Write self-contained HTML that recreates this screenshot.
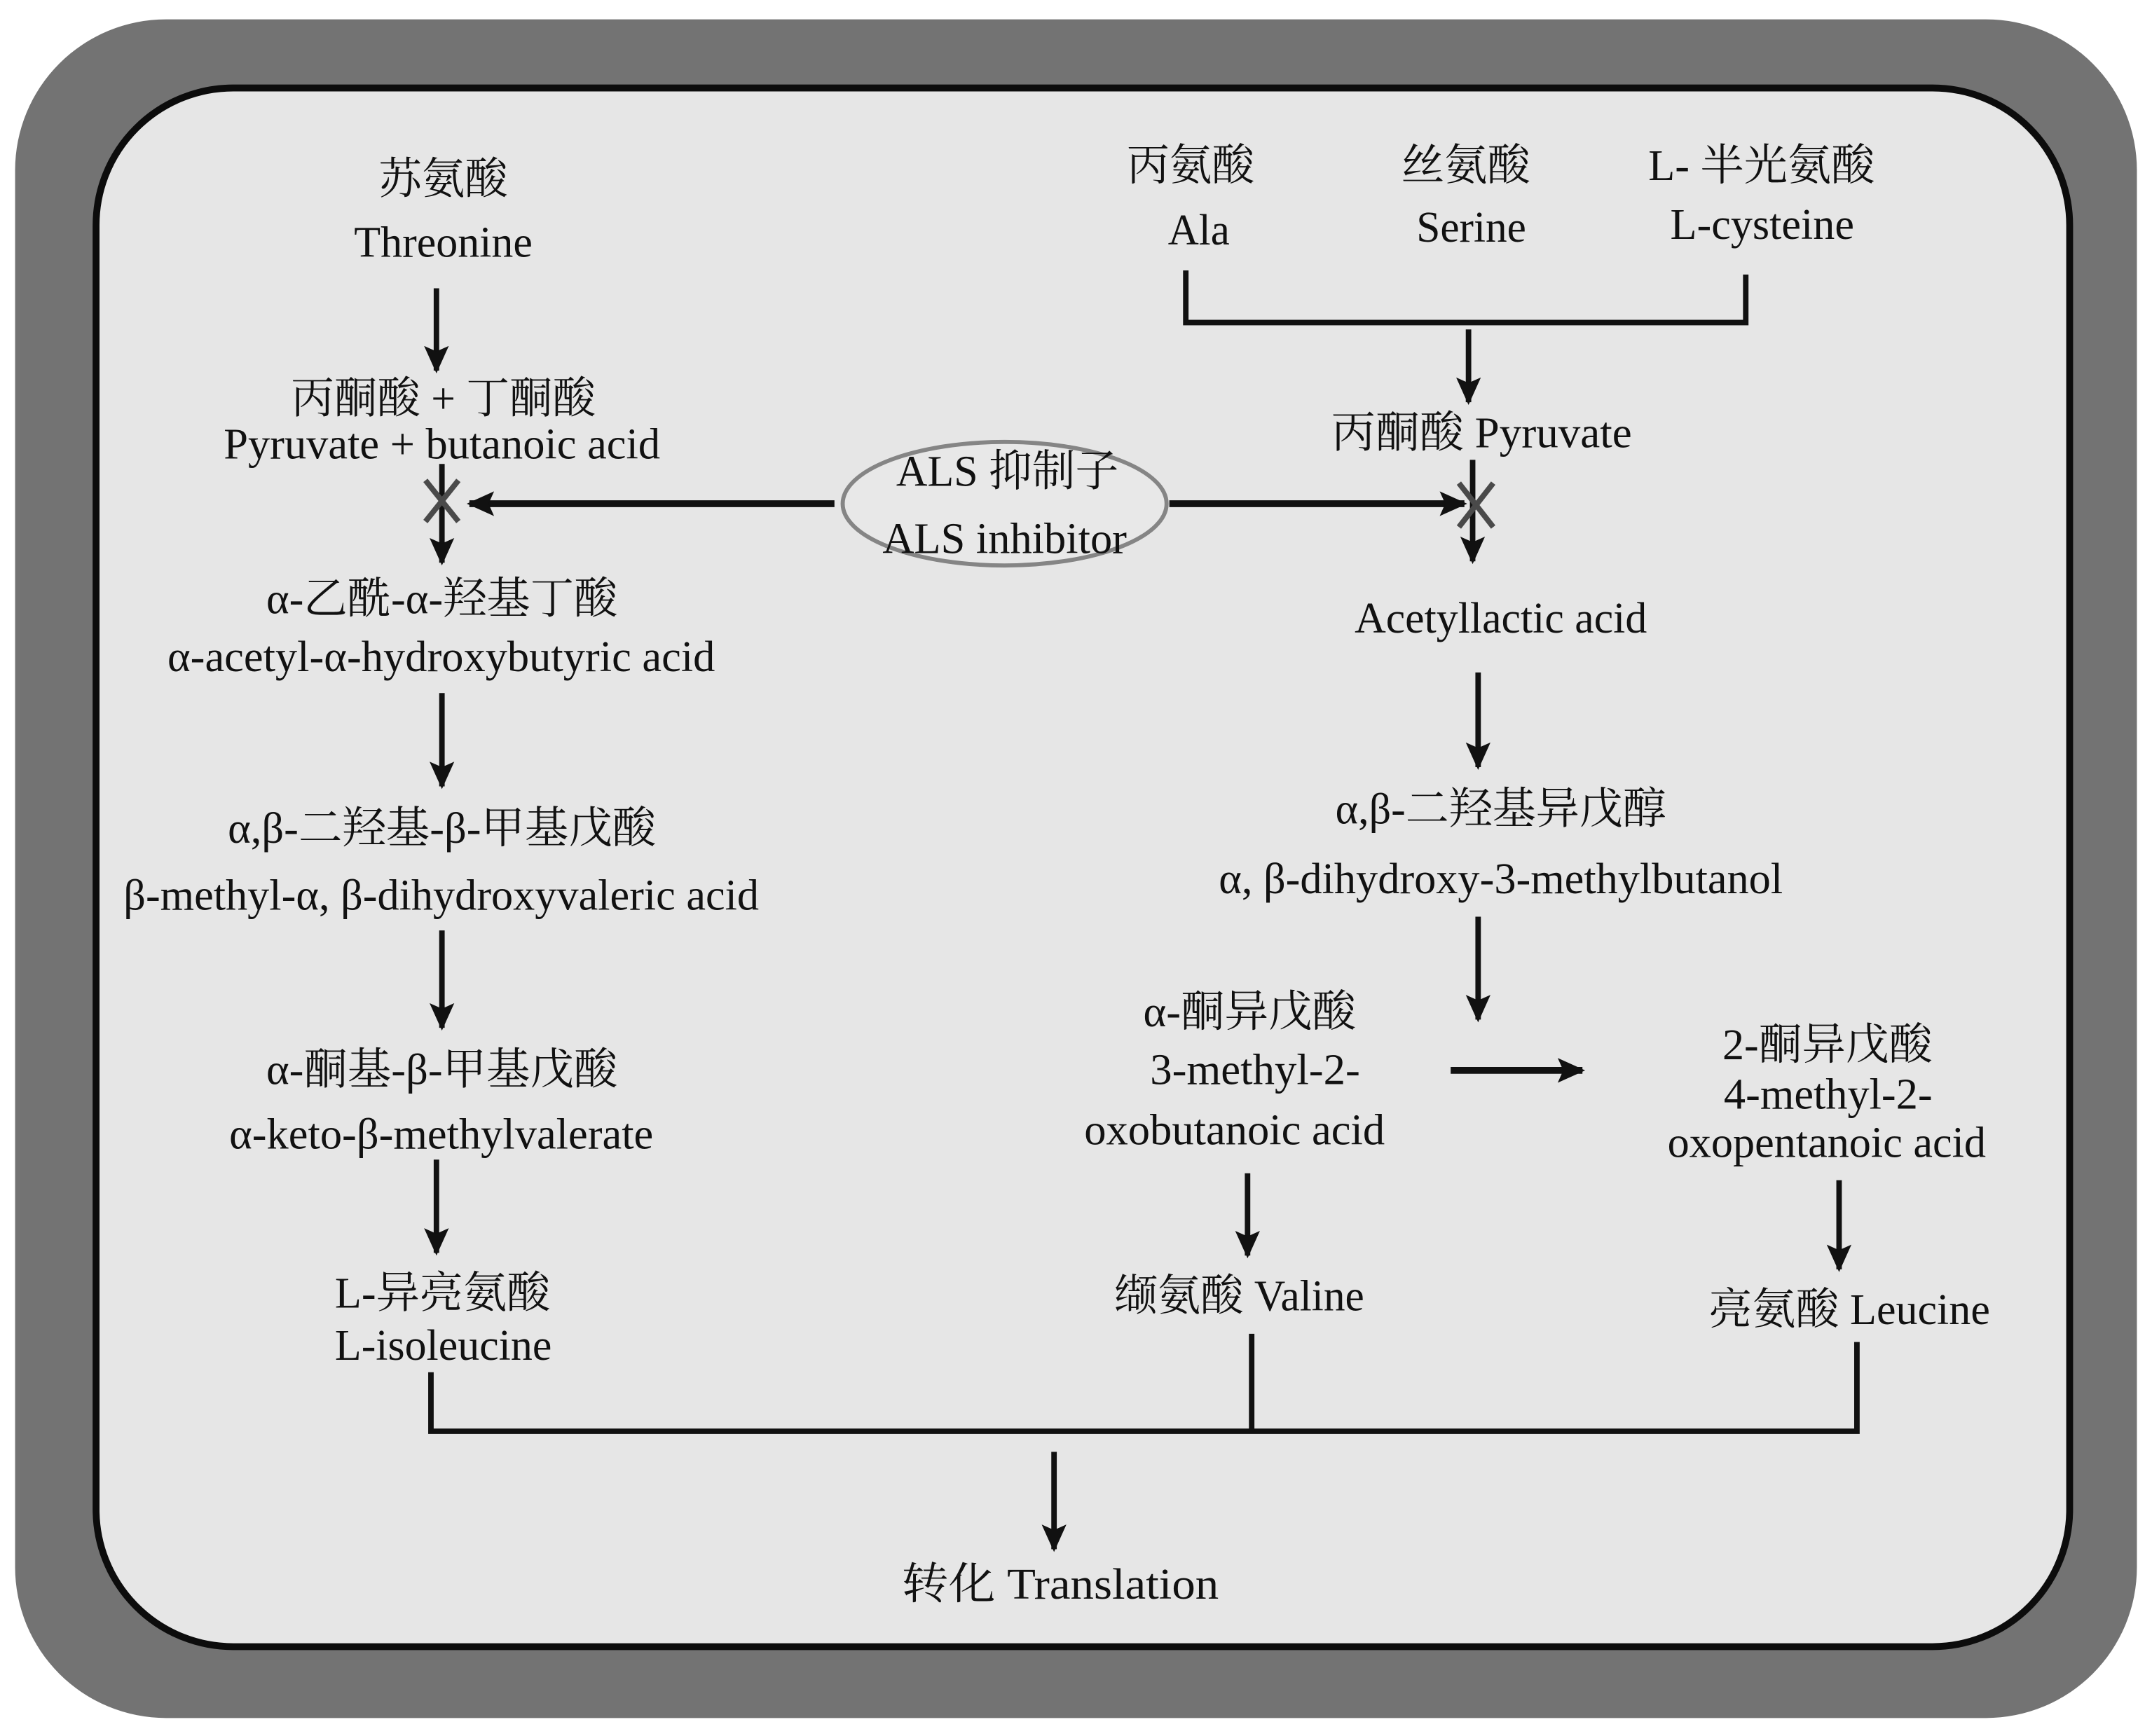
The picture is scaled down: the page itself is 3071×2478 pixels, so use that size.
<!DOCTYPE html>
<html><head><meta charset="utf-8"><style>
html,body{margin:0;padding:0;background:#fff}
svg{display:block}
text{font-family:"Liberation Serif","Noto Serif CJK SC",serif;font-size:32px;fill:#111}
</style></head><body>
<svg width="3071" height="2478" viewBox="0 0 1568 1265" xmlns="http://www.w3.org/2000/svg">
<defs>
<marker id="a" markerUnits="userSpaceOnUse" markerWidth="20" markerHeight="20" refX="18" refY="10" orient="auto">
<path d="M0,1 L20,10 L0,19 L4,10 Z" fill="#111"/>
</marker>
</defs>
<rect x="11" y="14" width="1546" height="1238" rx="110" fill="#737373"/>
<rect x="70" y="64" width="1438" height="1136" rx="100" fill="#e6e6e6" stroke="#0c0c0c" stroke-width="5"/>

<g stroke="#111" stroke-width="4" fill="none">
<line x1="318" y1="210" x2="318" y2="270" marker-end="url(#a)"/>
<line x1="322" y1="338" x2="322" y2="410" marker-end="url(#a)"/>
<line x1="322" y1="505" x2="322" y2="573" marker-end="url(#a)"/>
<line x1="322" y1="678" x2="322" y2="749" marker-end="url(#a)"/>
<line x1="318" y1="845" x2="318" y2="913" marker-end="url(#a)"/>
<polyline points="314,1000 314,1043 1353,1043 1353,978"/>
<line x1="912" y1="972" x2="912" y2="1043"/>
<line x1="768" y1="1058" x2="768" y2="1129" marker-end="url(#a)"/>
<line x1="608" y1="367" x2="342" y2="367" stroke-width="5" marker-end="url(#a)"/>
<line x1="852" y1="367" x2="1067" y2="367" stroke-width="5" marker-end="url(#a)"/>
<polyline points="864,197 864,235 1272,235 1272,200"/>
<line x1="1070" y1="240" x2="1070" y2="293" marker-end="url(#a)"/>
<line x1="1073" y1="335" x2="1073" y2="409" marker-end="url(#a)"/>
<line x1="1077" y1="490" x2="1077" y2="559" marker-end="url(#a)"/>
<line x1="1077" y1="668" x2="1077" y2="743" marker-end="url(#a)"/>
<line x1="1057" y1="780" x2="1153" y2="780" stroke-width="5" marker-end="url(#a)"/>
<line x1="909" y1="855" x2="909" y2="915" marker-end="url(#a)"/>
<line x1="1340" y1="860" x2="1340" y2="925" marker-end="url(#a)"/>
</g>
<g stroke="#4a4a4a" stroke-width="4">
<line x1="310" y1="350" x2="334" y2="380"/><line x1="334" y1="350" x2="310" y2="380"/>
<line x1="1063" y1="352" x2="1088" y2="384"/><line x1="1088" y1="352" x2="1063" y2="384"/>
</g>
<ellipse cx="732" cy="367" rx="118" ry="45" fill="#e8e8e8" stroke="#858585" stroke-width="3"/>

<g>
<text x="276" y="141" textLength="94" lengthAdjust="spacingAndGlyphs">苏氨酸</text>
<text x="258" y="187" textLength="130" lengthAdjust="spacingAndGlyphs">Threonine</text>
<text x="212" y="301" textLength="222" lengthAdjust="spacingAndGlyphs">丙酮酸 + 丁酮酸</text>
<text x="163" y="334" textLength="318" lengthAdjust="spacingAndGlyphs">Pyruvate + butanoic acid</text>
<text x="194" y="447" textLength="256" lengthAdjust="spacingAndGlyphs">α-乙酰-α-羟基丁酸</text>
<text x="122" y="489" textLength="399" lengthAdjust="spacingAndGlyphs">α-acetyl-α-hydroxybutyric acid</text>
<text x="166" y="614" textLength="312" lengthAdjust="spacingAndGlyphs">α,β-二羟基-β-甲基戊酸</text>
<text x="90" y="663" textLength="463" lengthAdjust="spacingAndGlyphs">β-methyl-α, β-dihydroxyvaleric acid</text>
<text x="194" y="790" textLength="256" lengthAdjust="spacingAndGlyphs">α-酮基-β-甲基戊酸</text>
<text x="167" y="837" textLength="309" lengthAdjust="spacingAndGlyphs">α-keto-β-methylvalerate</text>
<text x="244" y="953" textLength="157" lengthAdjust="spacingAndGlyphs">L-异亮氨酸</text>
<text x="244" y="991" textLength="158" lengthAdjust="spacingAndGlyphs">L-isoleucine</text>
<text x="657" y="1165" textLength="231" lengthAdjust="spacingAndGlyphs">转化   Translation</text>
<text x="653" y="354" textLength="162" lengthAdjust="spacingAndGlyphs">ALS 抑制子</text>
<text x="643" y="403" textLength="178" lengthAdjust="spacingAndGlyphs">ALS inhibitor</text>
<text x="821" y="131" textLength="93" lengthAdjust="spacingAndGlyphs">丙氨酸</text>
<text x="851" y="178" textLength="45" lengthAdjust="spacingAndGlyphs">Ala</text>
<text x="1021" y="131" textLength="94" lengthAdjust="spacingAndGlyphs">丝氨酸</text>
<text x="1032" y="176" textLength="80" lengthAdjust="spacingAndGlyphs">Serine</text>
<text x="1201" y="131" textLength="165" lengthAdjust="spacingAndGlyphs">L- 半光氨酸</text>
<text x="1217" y="174" textLength="134" lengthAdjust="spacingAndGlyphs">L-cysteine</text>
<text x="970" y="326" textLength="219" lengthAdjust="spacingAndGlyphs">丙酮酸  Pyruvate</text>
<text x="987" y="461" textLength="213" lengthAdjust="spacingAndGlyphs">Acetyllactic acid</text>
<text x="973" y="600" textLength="241" lengthAdjust="spacingAndGlyphs">α,β-二羟基异戊醇</text>
<text x="888" y="651" textLength="411" lengthAdjust="spacingAndGlyphs">α, β-dihydroxy-3-methylbutanol</text>
<text x="833" y="748" textLength="155" lengthAdjust="spacingAndGlyphs">α-酮异戊酸</text>
<text x="838" y="790" textLength="153" lengthAdjust="spacingAndGlyphs">3-methyl-2-</text>
<text x="790" y="834" textLength="219" lengthAdjust="spacingAndGlyphs">oxobutanoic acid</text>
<text x="1255" y="772" textLength="153" lengthAdjust="spacingAndGlyphs">2-酮异戊酸</text>
<text x="1256" y="808" textLength="152" lengthAdjust="spacingAndGlyphs">4-methyl-2-</text>
<text x="1215" y="843" textLength="232" lengthAdjust="spacingAndGlyphs">oxopentanoic acid</text>
<text x="812" y="955" textLength="182" lengthAdjust="spacingAndGlyphs">缬氨酸 Valine</text>
<text x="1245" y="965" textLength="205" lengthAdjust="spacingAndGlyphs">亮氨酸 Leucine</text>
</g>
</svg>
</body></html>
